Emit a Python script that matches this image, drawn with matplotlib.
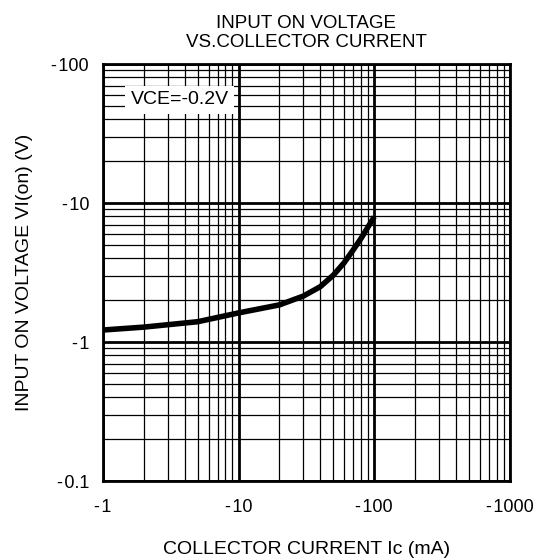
import matplotlib
matplotlib.use('Agg')
import matplotlib.pyplot as plt
from matplotlib.ticker import FixedLocator, LogLocator, NullFormatter

plt.rcParams['font.family'] = ['Liberation Sans', 'DejaVu Sans']

# curve (abs values, log-log)
ic = [1, 2, 5, 10, 20, 30, 40, 50, 60, 70, 80, 100]
vin = [1.22, 1.28, 1.40, 1.62, 1.85, 2.14, 2.5, 3.03, 3.72, 4.6, 5.57, 7.96]

xticks = [1, 10, 100, 1000]
xlabels = ['-\u200a1', '-\u200a10', '-\u200a100', '-\u200a1000']
yticks = [0.1, 1, 10, 100]
ylabels = ['-\u200a0.1', '-\u200a1', '-\u200a10', '-\u200a100']

fig = plt.figure(figsize=(5.39, 5.59), dpi=100)
ax = fig.add_axes([0.191, 0.1395, 0.755, 0.746])
ax.set_xscale('log')
ax.set_yscale('log')
ax.set_xlim(1, 1000)
ax.set_ylim(0.1, 100)

ax.xaxis.set_major_locator(FixedLocator(xticks))
ax.yaxis.set_major_locator(FixedLocator(yticks))
ax.xaxis.set_minor_locator(LogLocator(base=10, subs=range(2, 10)))
ax.yaxis.set_minor_locator(LogLocator(base=10, subs=range(2, 10)))
ax.xaxis.set_minor_formatter(NullFormatter())
ax.yaxis.set_minor_formatter(NullFormatter())
ax.set_xticklabels(xlabels)
ax.set_yticklabels(ylabels)
ax.tick_params(which='both', length=0, labelsize=13)
ax.tick_params(axis='x', pad=13)
ax.tick_params(axis='y', pad=10)

ax.grid(which='major', color='black', linewidth=2)
ax.grid(which='minor', color='black', linewidth=0.9)
for s in ax.spines.values():
    s.set_linewidth(2)

ax.plot(ic, vin, color='black', linewidth=4, solid_capstyle='butt')

ax.text(0.068, 0.914, 'VCE=-0.2V', transform=ax.transAxes, fontsize=14,
        va='center', ha='left',
        bbox=dict(facecolor='white', edgecolor='none', pad=4))

ax.set_title('INPUT ON VOLTAGE\nVS.COLLECTOR CURRENT', fontsize=13.5, pad=12)
ax.set_xlabel('COLLECTOR CURRENT Ic (mA)', fontsize=14, labelpad=18)
ax.set_ylabel('INPUT ON VOLTAGE VI(on) (V)', fontsize=14, labelpad=13)

fig.savefig('out.png', dpi=100)
